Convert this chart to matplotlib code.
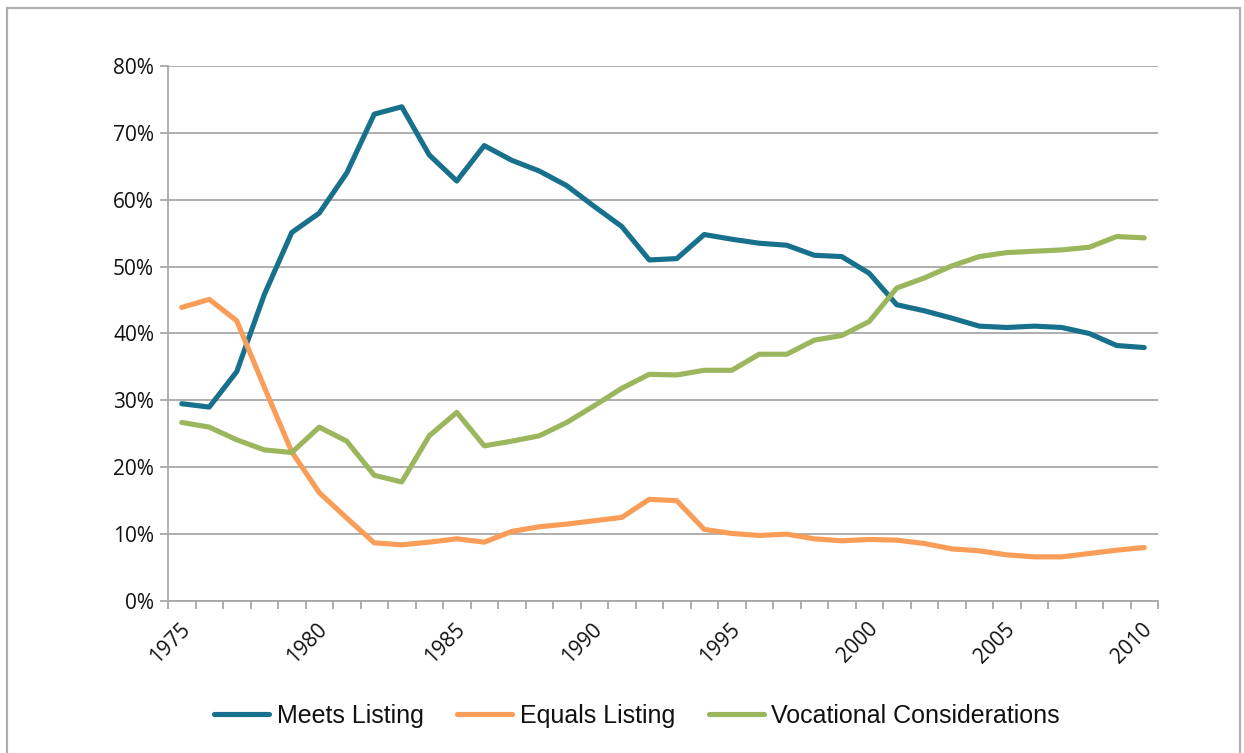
import matplotlib
matplotlib.use("Agg")
import matplotlib.pyplot as plt
from matplotlib.patches import Rectangle
from matplotlib.ticker import FixedLocator, FuncFormatter
from matplotlib.transforms import ScaledTranslation

years = list(range(1975, 2011))

meets_listing = [29.5, 29.0, 34.3, 45.8, 55.1, 58.0, 64.0, 72.8, 73.9, 66.7,
                 62.8, 68.1, 65.9, 64.3, 62.1, 59.0, 56.0, 51.0, 51.2, 54.8,
                 54.1, 53.5, 53.2, 51.7, 51.5, 49.0, 44.3, 43.4, 42.3, 41.1,
                 40.9, 41.1, 40.9, 40.0, 38.2, 37.9]

equals_listing = [43.9, 45.1, 41.9, 32.0, 22.3, 16.2, 12.4, 8.7, 8.4, 8.8,
                  9.3, 8.8, 10.4, 11.1, 11.5, 12.0, 12.5, 15.2, 15.0, 10.7,
                  10.1, 9.8, 10.0, 9.3, 9.0, 9.2, 9.1, 8.6, 7.8, 7.5,
                  6.9, 6.6, 6.6, 7.1, 7.6, 8.0]

vocational = [26.7, 26.0, 24.1, 22.6, 22.2, 26.0, 23.9, 18.8, 17.8, 24.7,
              28.2, 23.2, 23.9, 24.7, 26.7, 29.2, 31.8, 33.9, 33.8, 34.5,
              34.5, 36.9, 36.9, 39.0, 39.7, 41.8, 46.8, 48.3, 50.1, 51.5,
              52.1, 52.3, 52.5, 52.9, 54.5, 54.3]

series_names = ["Meets Listing", "Equals Listing", "Vocational Considerations"]
series_colors = ["#17718c", "#f99d58", "#9bb65c"]
y_ticks = [0, 10, 20, 30, 40, 50, 60, 70, 80]
label_years = [1975, 1980, 1985, 1990, 1995, 2000, 2005, 2010]

W, H = 1244, 753
fig = plt.figure(figsize=(W / 100, H / 100), dpi=100)
fig.patch.set_facecolor("white")

ax = fig.add_axes([168 / W, 1 - 601 / H, (1158 - 168) / W, (601 - 66) / H])

tick_font = "Open Sans"
legend_font = "Liberation Sans"
grid_color = "#a8a8a8"
text_color = "#111111"

idx = list(range(len(years)))
for vals, name, col in zip([meets_listing, equals_listing, vocational],
                           series_names, series_colors):
    ax.plot(idx, vals, color=col, lw=3.7, label=name,
            solid_capstyle="round", solid_joinstyle="round", zorder=3)

ax.set_xlim(-0.5, len(years) - 0.5)
ax.set_ylim(0, 80)

# y axis
ax.set_yticks(y_ticks)
ax.yaxis.set_major_formatter(FuncFormatter(lambda v, p: f"{int(v)}%"))
ax.grid(axis="y", color=grid_color, lw=1.3, zorder=1)
ax.set_axisbelow(True)

# x axis: tick marks on category boundaries, labels every five years
ax.xaxis.set_minor_locator(FixedLocator([i - 0.5 for i in range(len(years) + 1)]))
ax.set_xticks([years.index(y) for y in label_years])
ax.set_xticklabels([str(y) for y in label_years])
ax.tick_params(axis="x", which="major", length=0, pad=18)
ax.tick_params(axis="x", which="minor", length=6, width=1.3, color=grid_color)
ax.tick_params(axis="y", length=6, width=1.3, color=grid_color, pad=4)

shift = ScaledTranslation(5 / 100, 0, fig.dpi_scale_trans)
for lab in ax.get_xticklabels():
    lab.set_rotation(45)
    lab.set_ha("right")
    lab.set_va("center")
    lab.set_rotation_mode("anchor")
    lab.set_fontfamily(tick_font)
    lab.set_fontsize(15)
    lab.set_color(text_color)
    lab.set_transform(lab.get_transform() + shift)
for lab in ax.get_yticklabels():
    lab.set_fontfamily(tick_font)
    lab.set_fontsize(15)
    lab.set_color(text_color)

for side in ["top", "right"]:
    ax.spines[side].set_visible(False)
for side in ["left", "bottom"]:
    ax.spines[side].set_color(grid_color)
    ax.spines[side].set_linewidth(1.3)

handles, labels = ax.get_legend_handles_labels()
leg = fig.legend(handles, labels, loc="center", ncol=3,
                 bbox_to_anchor=(637 / W, 1 - 716 / H), frameon=False,
                 prop={"family": legend_font, "size": 18}, handlelength=2.2,
                 handletextpad=0.3, columnspacing=1.35)
for t in leg.get_texts():
    t.set_color(text_color)

# chart area border
fig.add_artist(Rectangle((7 / W, -0.05), (1240 - 7) / W, 1.05 - 8 / H,
                         transform=fig.transFigure, fill=False,
                         edgecolor="#b0b0b0", lw=1.6))

fig.savefig("out.png", dpi=100, facecolor="white")
